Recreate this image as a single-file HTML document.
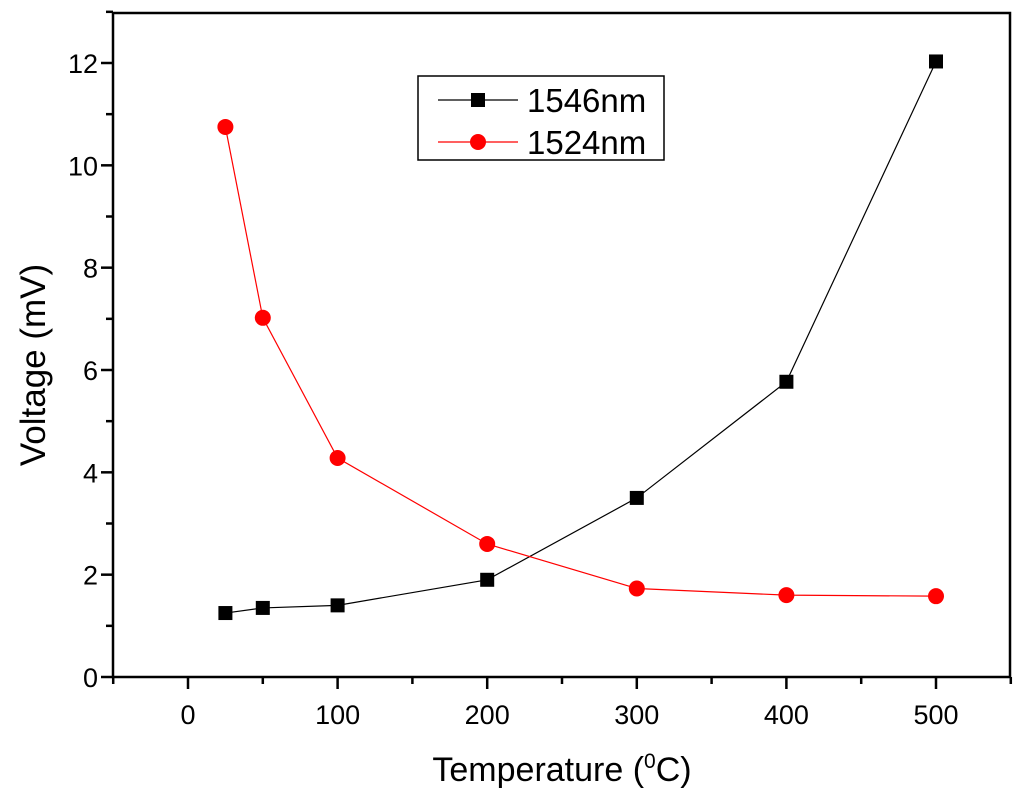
<!DOCTYPE html>
<html><head><meta charset="utf-8"><style>
html,body{margin:0;padding:0;background:#fff;}
svg{display:block;font-family:"Liberation Sans",Arial,sans-serif;}
</style></head><body>
<svg id="chart" width="1024" height="799" viewBox="0 0 1024 799">
<g id="axes"></g><g id="series"></g>
<g>
<rect x="418" y="76" width="246" height="84" fill="#fff" stroke="#000" stroke-width="1.5"/>
<g>
<line x1="438" y1="100" x2="518" y2="100" stroke="#000" stroke-width="1.2"/>
<rect x="471" y="93" width="14" height="14" fill="#000"/>
<text x="527" y="112" font-size="33">1546nm</text></g>
<g>
<line x1="438" y1="142" x2="518" y2="142" stroke="#f00" stroke-width="1.2"/>
<circle cx="478" cy="142" r="8" fill="#f00"/>
<text x="527" y="154" font-size="33">1524nm</text></g>
</g>
<text x="562" y="781" font-size="34" text-anchor="middle">Temperature (<tspan font-size="21" dy="-13">0</tspan><tspan dy="13">C)</tspan></text>
<text transform="translate(45,365) rotate(-90)" font-size="35" text-anchor="middle">Voltage (mV)</text>
</svg>
<script>
const temps=[25,50,100,200,300,400,500];
const v1546=[1.25,1.35,1.4,1.9,3.5,5.77,12.03];
const v1524=[10.75,7.02,4.28,2.6,1.73,1.6,1.58];
const xTicks=[0,100,200,300,400,500];
const yTicks=[0,2,4,6,8,10,12];
const NS="http://www.w3.org/2000/svg";
const L=113,R=1010,T=13,B=677;
const xs=v=>188+(v-0)*(936-188)/500;
const ys=v=>677-v*(677-63)/12;
function mk(t,a,p){const e=document.createElementNS(NS,t);for(const k in a)e.setAttribute(k,a[k]);p.appendChild(e);return e;}
const ax=document.getElementById('axes');
const frame=mk('rect',{x:L,y:T,width:R-L,height:B-T,fill:'none',stroke:'#000','stroke-width':2.5},ax);


for(let v=-50;v<=550;v+=50){const major=v%100===0;mk('line',{x1:xs(v),x2:xs(v),y1:B,y2:B+(major?12:7),stroke:'#000','stroke-width':2.5},ax);}
xTicks.forEach(v=>{const t=mk('text',{x:xs(v),y:724,'font-size':27,'text-anchor':'middle'},ax);t.textContent=v;

});
for(let v=0;v<=13;v+=1){const major=v%2===0;mk('line',{x1:L,x2:L-(major?12:7),y1:ys(v),y2:ys(v),stroke:'#000','stroke-width':2.5},ax);}
yTicks.forEach(v=>{const t=mk('text',{x:98,y:ys(v)+10,'font-size':27,'text-anchor':'end'},ax);t.textContent=v;

});
const sg=document.getElementById('series');
function series(vals,color,name,shape){
 const g=mk('g',{},sg);
 
 
 mk('polyline',{points:temps.map((t,i)=>xs(t)+','+ys(vals[i])).join(' '),fill:'none',stroke:color,'stroke-width':1.2},g);
 temps.forEach((t,i)=>{let m;
  if(shape==='sq')m=mk('rect',{x:xs(t)-7,y:ys(vals[i])-7,width:14,height:14,fill:color},g);
  else m=mk('circle',{cx:xs(t),cy:ys(vals[i]),r:8,fill:color},g);
  
  });
}
series(v1546,'#000','1546nm','sq');
series(v1524,'#f00','1524nm','circle');
</script>
</body></html>
